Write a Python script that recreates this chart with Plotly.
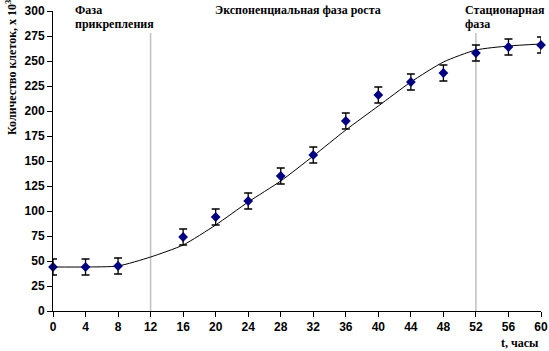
import plotly.graph_objects as go

# Data
t_points = [0, 4, 8, 16, 20, 24, 28, 32, 36, 40, 44, 48, 52, 56, 60]
cells = [44, 44, 45, 74, 94, 110, 135, 156, 190, 216, 229, 238, 258, 264, 266]
cells_err = [8, 8, 8, 8, 8, 8, 8, 8, 8, 8, 8, 8, 8, 8, 8]

t_curve = [0, 4, 8, 12, 16, 20, 24, 28, 32, 36, 40, 44, 48, 52, 56, 60]
curve = [44, 44, 45, 54, 66, 86, 109, 130, 155, 181, 205, 229, 249, 261, 265, 267]

phase_lines = [12, 52]
x_ticks = list(range(0, 61, 4))
y_ticks = list(range(0, 301, 25))

SERIF = "Times New Roman, Liberation Serif, serif"
SANS = "Arial, Liberation Sans, sans-serif"

fig = go.Figure()

for xl in phase_lines:
    fig.add_trace(go.Scatter(x=[xl, xl], y=[0, 278], mode="lines",
                             line=dict(color="#c0c0c0", width=1.5),
                             hoverinfo="skip", showlegend=False))

fig.add_trace(go.Scatter(x=t_curve, y=curve, mode="lines",
                         line=dict(color="black", width=1, shape="spline", smoothing=0.6),
                         showlegend=False))

fig.add_trace(go.Scatter(x=t_points, y=cells, mode="markers",
                         marker=dict(symbol="diamond", size=7.5, color="#000080"),
                         error_y=dict(type="data", array=cells_err, visible=True,
                                      color="black", thickness=1.3, width=4),
                         showlegend=False, cliponaxis=False))

fig.update_xaxes(range=[0, 60], tickvals=x_ticks, ticks="outside", ticklen=5,
                 tickcolor="black", showline=True, linecolor="black", linewidth=1,
                 showgrid=False, zeroline=False, automargin=False,
                 tickfont=dict(family=SANS, size=12, color="black", weight="bold"))
fig.update_yaxes(range=[0, 300], tickvals=y_ticks, ticks="outside", ticklen=5,
                 tickcolor="black", showline=True, linecolor="black", linewidth=1,
                 showgrid=False, zeroline=False, automargin=False,
                 tickfont=dict(family=SANS, size=12, color="black", weight="bold"))

def ann(text, x, y, xref="x", yref="paper", xanchor="left", yanchor="middle",
        angle=0, size=12):
    fig.add_annotation(text="<b>" + text + "</b>", x=x, y=y, xref=xref, yref=yref,
                       showarrow=False, xanchor=xanchor, yanchor=yanchor,
                       textangle=angle,
                       font=dict(family=SERIF, size=size, color="black"))

ann("Фаза", 2.45, 1.003)
ann("прикрепления", 2.45, 0.957)
ann("Экспоненциальная фаза роста", 19.7, 1.003)
ann("Стационарная", 50.4, 1.003)
ann("фаза", 50.4, 0.957)
ann("t, часы", 1.0, -0.107, xref="paper", xanchor="right")
ann("Количество клеток, x 10<sup>3</sup>", -0.084, 0.81, xref="paper",
    xanchor="center", yanchor="middle", angle=-90, size=12)

fig.update_layout(width=549, height=351, margin=dict(l=53, r=8, t=11, b=40),
                  plot_bgcolor="white", paper_bgcolor="white")

fig.write_html("out.html")
